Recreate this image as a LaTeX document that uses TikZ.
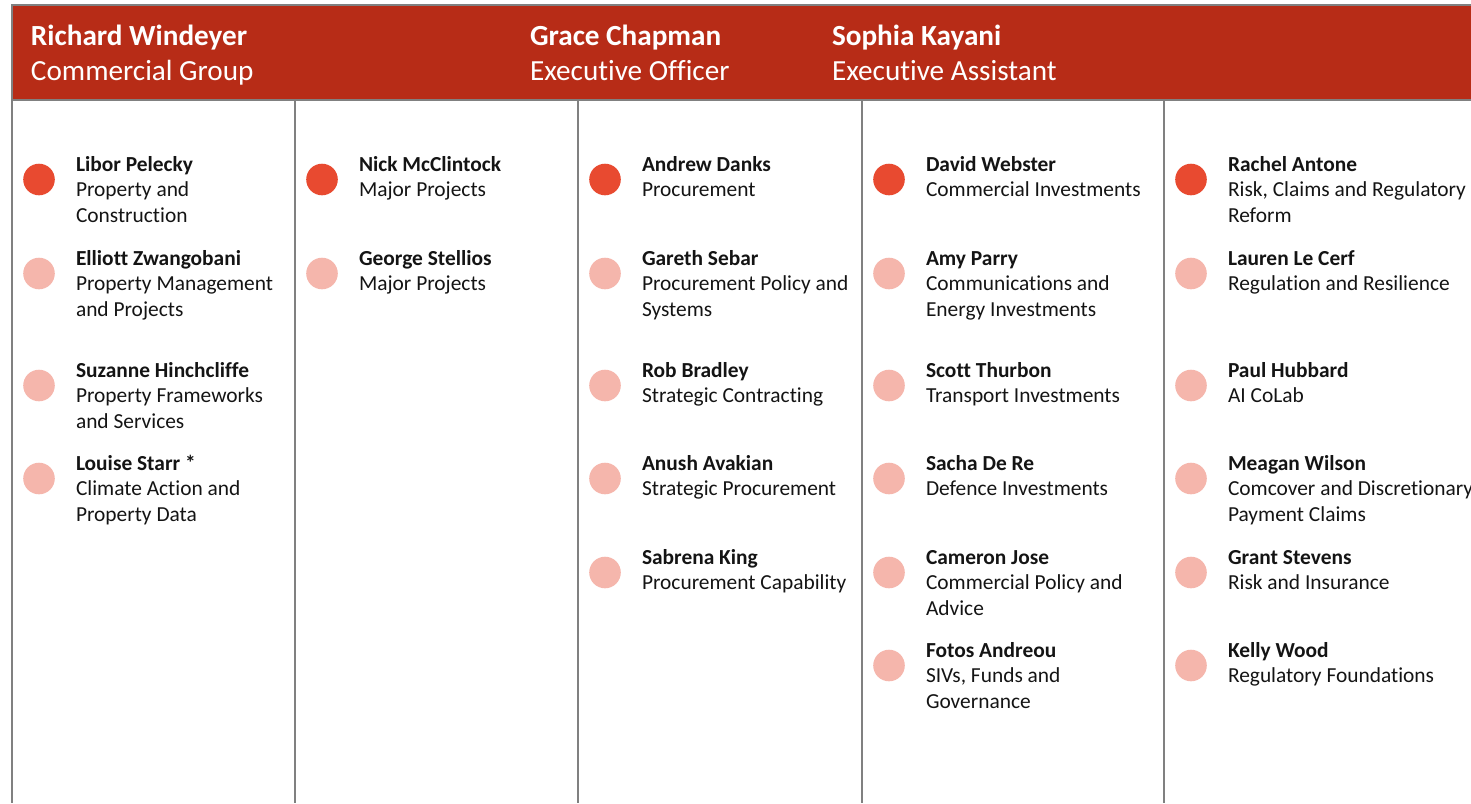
\documentclass[tikz,border=0pt]{standalone}
\usepackage{fontspec}
\setmainfont[Ligatures=NoCommon]{Carlito}
\usetikzlibrary{positioning}
\definecolor{headred}{RGB}{183,44,23}
\definecolor{dotdark}{RGB}{232,74,48}
\definecolor{dotlight}{RGB}{245,182,172}
\definecolor{rulegray}{RGB}{128,128,128}
\definecolor{inkblack}{RGB}{20,20,20}
\begin{document}
\begin{tikzpicture}[x=0.5pt,y=-0.5pt,
every node/.style={inner sep=0pt,outer sep=0pt},
lead/.style={circle,fill=dotdark,minimum size=15.8pt},
staff/.style={circle,fill=dotlight,minimum size=15.8pt},
who/.style={anchor=north west,align=left,text=inkblack,
  font=\fontsize{10.7pt}{12.75pt}\selectfont},
head/.style={anchor=north west,align=left,text=white,
  font=\fontsize{14.6pt}{17.75pt}\selectfont}]
\useasboundingbox (0,0) rectangle (1471,803);
% header band and column rules
\fill[headred] (12,5) rectangle (1471,100);
\draw[rulegray,line width=1pt] (1471,5) -- (12,5) -- (12,803);
\draw[rulegray,line width=1pt] (12,100) -- (1471,100);
\draw[rulegray,line width=1pt] (295,100) -- (295,803);
\draw[rulegray,line width=1pt] (578,100) -- (578,803);
\draw[rulegray,line width=1pt] (862,100) -- (862,803);
\draw[rulegray,line width=1pt] (1164,100) -- (1164,803);
\node[head] (H1) at (31,20.2) {\strut\textbf{Richard Windeyer}\\Commercial Group};
\node[head] (H2) at (530,20.2) {\strut\textbf{Grace Chapman}\\Executive Officer};
\node[head] (H3) at (832,20.2) {\strut\textbf{Sophia Kayani}\\Executive Assistant};
% column 1
\node[lead] (D11) at (39,179.5) {};
\node[staff] (D12) at (39,273.5) {};
\node[staff] (D13) at (39,385.5) {};
\node[staff] (D14) at (39,478.5) {};
\node[who] (P11) at (76,153.6) {\strut\textbf{Libor Pelecky}\\Property and\\Construction};
\node[who] (P12) at (76,247.6) {\strut\textbf{Elliott Zwangobani}\\Property Management\\and Projects};
\node[who] (P13) at (76,359.6) {\strut\textbf{Suzanne Hinchcliffe}\\Property Frameworks\\and Services};
\node[who] (P14) at (76,452.6) {\strut\textbf{Louise Starr *}\\Climate Action and\\Property Data};
% column 2
\node[lead] (D21) at (322,179.5) {};
\node[staff] (D22) at (322,273.5) {};
\node[who] (P21) at (359,153.6) {\strut\textbf{Nick McClintock}\\Major Projects};
\node[who] (P22) at (359,247.6) {\strut\textbf{George Stellios}\\Major Projects};
% column 3
\node[lead] (D31) at (605,179.5) {};
\node[staff] (D32) at (605,273.5) {};
\node[staff] (D33) at (605,385.5) {};
\node[staff] (D34) at (605,478.5) {};
\node[staff] (D35) at (605,572.5) {};
\node[who] (P31) at (642,153.6) {\strut\textbf{Andrew Danks}\\Procurement};
\node[who] (P32) at (642,247.6) {\strut\textbf{Gareth Sebar}\\Procurement Policy and\\Systems};
\node[who] (P33) at (642,359.6) {\strut\textbf{Rob Bradley}\\Strategic Contracting};
\node[who] (P34) at (642,452.6) {\strut\textbf{Anush Avakian}\\Strategic Procurement};
\node[who] (P35) at (642,546.6) {\strut\textbf{Sabrena King}\\Procurement Capability};
% column 4
\node[lead] (D41) at (889,179.5) {};
\node[staff] (D42) at (889,273.5) {};
\node[staff] (D43) at (889,385.5) {};
\node[staff] (D44) at (889,478.5) {};
\node[staff] (D45) at (889,572.5) {};
\node[staff] (D46) at (889,665.5) {};
\node[who] (P41) at (926,153.6) {\strut\textbf{David Webster}\\Commercial Investments};
\node[who] (P42) at (926,247.6) {\strut\textbf{Amy Parry}\\Communications and\\Energy Investments};
\node[who] (P43) at (926,359.6) {\strut\textbf{Scott Thurbon}\\Transport Investments};
\node[who] (P44) at (926,452.6) {\strut\textbf{Sacha De Re}\\Defence Investments};
\node[who] (P45) at (926,546.6) {\strut\textbf{Cameron Jose}\\Commercial Policy and\\Advice};
\node[who] (P46) at (926,639.6) {\strut\textbf{Fotos Andreou}\\SIVs, Funds and\\Governance};
% column 5
\node[lead] (D51) at (1191,179.5) {};
\node[staff] (D52) at (1191,273.5) {};
\node[staff] (D53) at (1191,385.5) {};
\node[staff] (D54) at (1191,478.5) {};
\node[staff] (D55) at (1191,572.5) {};
\node[staff] (D56) at (1191,665.5) {};
\node[who] (P51) at (1228,153.6) {\strut\textbf{Rachel Antone}\\Risk, Claims and Regulatory\\Reform};
\node[who] (P52) at (1228,247.6) {\strut\textbf{Lauren Le Cerf}\\Regulation and Resilience};
\node[who] (P53) at (1228,359.6) {\strut\textbf{Paul Hubbard}\\AI CoLab};
\node[who] (P54) at (1228,452.6) {\strut\textbf{Meagan Wilson}\\Comcover and Discretionary\\Payment Claims};
\node[who] (P55) at (1228,546.6) {\strut\textbf{Grant Stevens}\\Risk and Insurance};
\node[who] (P56) at (1228,639.6) {\strut\textbf{Kelly Wood}\\Regulatory Foundations};
\end{tikzpicture}
\end{document}
